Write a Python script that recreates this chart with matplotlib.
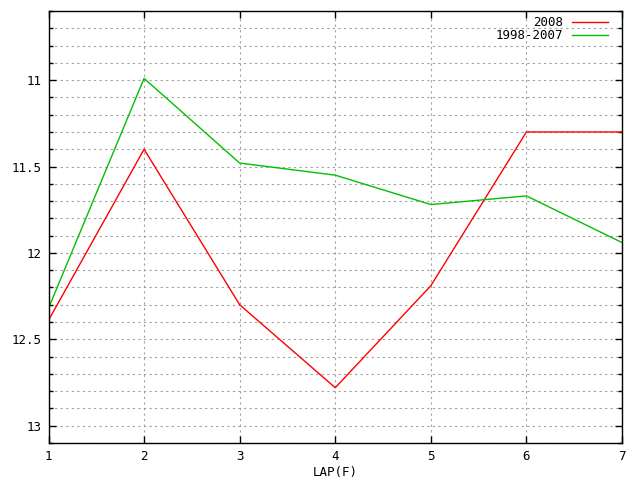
import matplotlib
matplotlib.use('Agg')
import matplotlib.pyplot as plt
from matplotlib.ticker import MultipleLocator

laps = [1, 2, 3, 4, 5, 6, 7]
y2008 = [12.39, 11.40, 12.30, 12.78, 12.19, 11.30, 11.30]
y9807 = [12.32, 10.99, 11.48, 11.55, 11.72, 11.67, 11.94]

plt.rcParams['font.family'] = 'DejaVu Sans Mono'
plt.rcParams['font.size'] = 9

fig = plt.figure(figsize=(6.4, 4.8), dpi=100)
ax = fig.add_axes([48.5 / 640, 37 / 480, (622 - 48.5) / 640, (443 - 11) / 480])

ax.plot(laps, y2008, color='#ff0000', linewidth=1, label='2008')
ax.plot(laps, y9807, color='#00c000', linewidth=1, label='1998-2007')

ax.set_xlim(1, 7)
ax.set_ylim(13.1, 10.6)
ax.xaxis.set_major_locator(MultipleLocator(1))
ax.yaxis.set_minor_locator(MultipleLocator(0.1))
ax.set_yticks([11, 11.5, 12, 12.5, 13])
ax.set_yticklabels(['11', '11.5', '12', '12.5', '13'])

ax.grid(True, which='major', axis='x', color='#a0a0a0', linestyle=(0, (2, 3)), linewidth=0.8)
ax.grid(True, which='both', axis='y', color='#a0a0a0', linestyle=(0, (2, 3)), linewidth=0.8)

ax.tick_params(which='both', direction='in', top=True, right=True, width=1)
ax.tick_params(which='major', length=5, pad=5)
ax.tick_params(which='minor', length=3)
ax.tick_params(axis='x', which='minor', top=False, bottom=False)
for s in ax.spines.values():
    s.set_linewidth(1)

ax.set_xlabel('LAP(F)', labelpad=2)

ax.legend(loc='upper right', frameon=False, markerfirst=False, handlelength=2.9,
          handletextpad=0.7, labelspacing=0.0, borderaxespad=0.0,
          bbox_to_anchor=(0.985, 1.0))

fig.savefig('out.png', dpi=100)
